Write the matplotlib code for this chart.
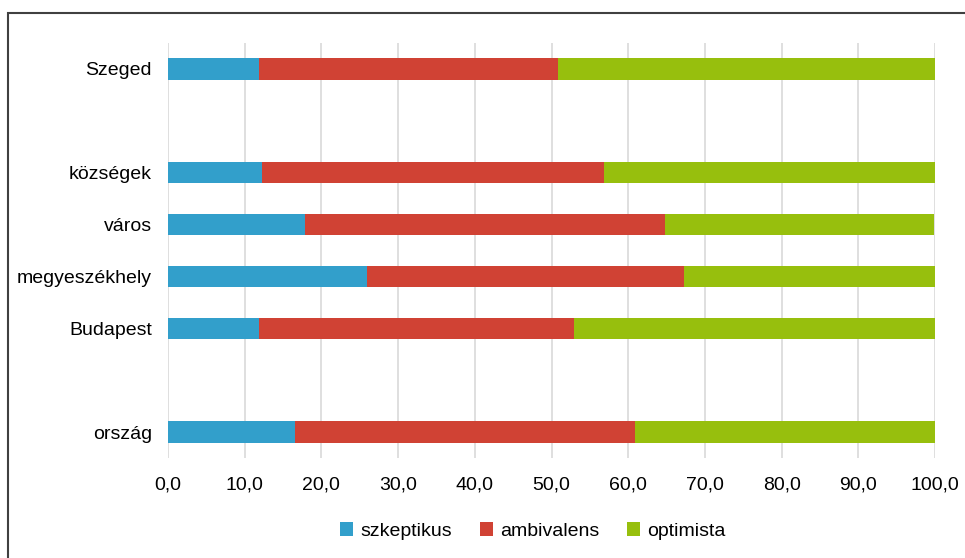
import matplotlib.pyplot as plt
from matplotlib.patches import Rectangle

plt.rcParams['font.family'] = ['Liberation Sans', 'DejaVu Sans']
plt.rcParams['font.size'] = 14

# categories from bottom to top, '' = empty slot
categories = ['ország', '', 'Budapest', 'megyeszékhely', 'város', 'községek', '', 'Szeged']
szkeptikus = [16.6, 0, 11.8, 25.9, 17.8, 12.2, 0, 11.8]
ambivalens = [44.3, 0, 41.1, 41.4, 47.0, 44.6, 0, 39.0]
optimista = [39.1, 0, 47.1, 32.7, 35.1, 43.2, 0, 49.2]
series_names = ['szkeptikus', 'ambivalens', 'optimista']
colors = ['#329fcb', '#d04234', '#97bf0d']

fig = plt.figure(figsize=(9.65, 5.58), dpi=100)
ax = fig.add_axes([168/965, 1 - 458/558, (935 - 168)/965, (458 - 43)/558])

y = list(range(len(categories)))
left = [0] * len(categories)
for vals, name, c in zip([szkeptikus, ambivalens, optimista], series_names, colors):
    ax.barh(y, vals, left=left, height=0.41, color=c, label=name, zorder=3)
    left = [l + v for l, v in zip(left, vals)]

ax.set_xlim(0, 100)
ax.set_ylim(-0.5, 7.5)
ax.set_yticks(y)
ax.set_yticklabels(categories)
ax.set_xticks(range(0, 101, 10))
ax.set_xticklabels([f'{v},0' for v in range(0, 101, 10)])
ax.tick_params(length=0, colors='#000000')
ax.tick_params(axis='x', pad=13)
ax.tick_params(axis='y', pad=11.5)
ax.grid(axis='x', color='#dcdcdc', linewidth=1.3, zorder=0)
for s in ax.spines.values():
    s.set_visible(False)

fig.legend(loc='center', bbox_to_anchor=(533/965, 1 - 531/558), ncol=3, frameon=False,
           handlelength=0.67, handleheight=0.67, handletextpad=0.35, columnspacing=1.45)

fig.patches.append(Rectangle((8/965, -0.1), 1.1, 1.1 - 13/558, transform=fig.transFigure,
                             fill=False, edgecolor='#404040', linewidth=1.5))

fig.savefig('out.png', dpi=100)
